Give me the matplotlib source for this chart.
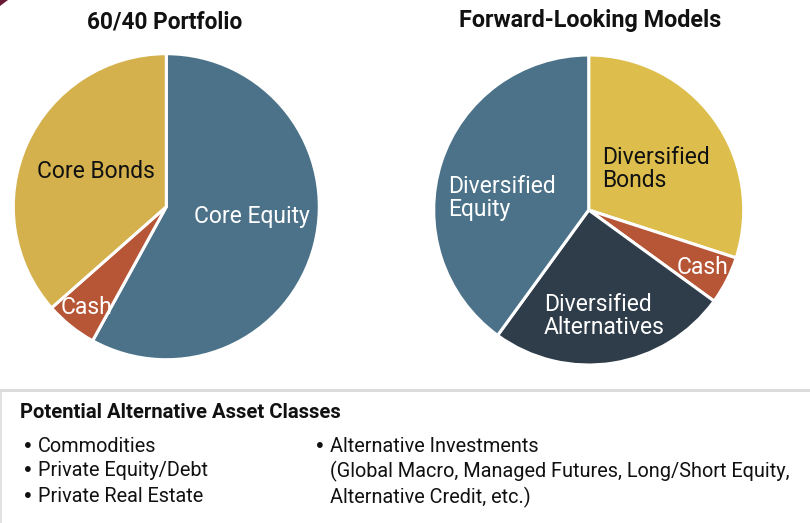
import matplotlib
matplotlib.use("Agg")
import matplotlib.pyplot as plt
from matplotlib.patches import Polygon

W, H = 810, 523
DPI = 100

# ---- data ----
left_title = "60/40 Portfolio"
left_labels = ["Core Equity", "Cash", "Core Bonds"]
left_values = [58, 5.5, 36.5]

right_title = "Forward-Looking Models"
right_labels = ["Diversified\nBonds", "Cash", "Diversified\nAlternatives", "Diversified\nEquity"]
right_values = [30, 5, 25, 40]

box_title = "Potential Alternative Asset Classes"
col1_items = ["Commodities", "Private Equity/Debt", "Private Real Estate"]
col2_lines = ["Alternative Investments",
              "(Global Macro, Managed Futures, Long/Short Equity,",
              "Alternative Credit, etc.)"]

# ---- styles ----
C_EQ = "#4B7289"
C_BOND_L = "#D4B14D"
C_BOND_R = "#DDBE4C"
C_CASH = "#B75636"
C_ALT = "#2F3D4A"

plt.rcParams['font.family'] = ['Roboto', 'DejaVu Sans']

fig = plt.figure(figsize=(W / DPI, H / DPI), dpi=DPI)
fig.patch.set_facecolor("white")


def fx(x):
    return x / W


def fy(y):
    return 1 - y / H


def pie_axes(cx, cy, r):
    ax = fig.add_axes([fx(cx - r), fy(cy + r), 2 * r / W, 2 * r / H])
    ax.axis("off")
    return ax


# left pie
axL = pie_axes(166.3, 206.7, 153)
axL.pie(left_values, colors=[C_EQ, C_CASH, C_BOND_L], startangle=90,
        counterclock=False, radius=1,
        wedgeprops=dict(edgecolor="white", linewidth=2.2))
axL.set_xlim(-1, 1)
axL.set_ylim(-1, 1)
axL.set_aspect("auto")

# right pie
axR = pie_axes(588.7, 210, 155)
axR.pie(right_values, colors=[C_BOND_R, C_CASH, C_ALT, C_EQ], startangle=90,
        counterclock=False, radius=1,
        wedgeprops=dict(edgecolor="white", linewidth=2.2))
axR.set_xlim(-1, 1)
axR.set_ylim(-1, 1)
axR.set_aspect("auto")

# titles
fig.text(fx(165), fy(22), left_title, ha="center", va="center",
         fontsize=16.3, fontweight="bold", color="#111111")
fig.text(fx(590), fy(20), right_title, ha="center", va="center",
         fontsize=16.8, fontweight="bold", color="#111111")

# left labels
LFS = 16.5
fig.text(fx(252), fy(217), left_labels[0], ha="center", va="center",
         fontsize=LFS, color="white")
fig.text(fx(86), fy(307), left_labels[1], ha="center", va="center",
         fontsize=LFS, color="white")
fig.text(fx(96), fy(171), left_labels[2], ha="center", va="center",
         fontsize=LFS, color="#111111")

# right labels
fig.text(fx(602), fy(169), right_labels[0], ha="left", va="center",
         fontsize=LFS, color="#111111", linespacing=0.95)
fig.text(fx(702), fy(267), right_labels[1], ha="center", va="center",
         fontsize=LFS, color="white")
fig.text(fx(544), fy(316), right_labels[2], ha="left", va="center",
         fontsize=LFS, color="white", linespacing=0.95)
fig.text(fx(448), fy(198), right_labels[3], ha="left", va="center",
         fontsize=LFS, color="white", linespacing=0.95)

# bottom box lines
fig.add_artist(plt.Line2D([0, 1], [fy(389.5), fy(389.5)], color="#DCDCDC",
                          linewidth=2.2, transform=fig.transFigure))
fig.add_artist(plt.Line2D([fx(1), fx(1)], [fy(390), 0], color="#DCDCDC",
                          linewidth=1.2, transform=fig.transFigure))

# top-left corner mark
fig.add_artist(Polygon([[fx(0), fy(0)], [fx(8), fy(0)], [fx(0), fy(6)]],
                       closed=True, facecolor="#6B1A35", edgecolor="none",
                       transform=fig.transFigure))

# box text
fig.text(fx(20), fy(413), box_title, ha="left", va="center",
         fontsize=14.6, fontweight="bold", color="#111111")
BFS = 14.3
rows_y = [446, 471, 497]


def bullet(x, y):
    fig.text(fx(x), fy(y), "\u2022", ha="left", va="center",
             fontsize=BFS, color="#111111", family="DejaVu Sans")


for y, item in zip(rows_y, col1_items):
    bullet(22, y)
    fig.text(fx(38), fy(y), item, ha="left", va="center",
             fontsize=BFS, color="#111111")
bullet(314, rows_y[0])
fig.text(fx(330), fy(rows_y[0]), col2_lines[0], ha="left",
         va="center", fontsize=BFS, color="#111111")
fig.text(fx(330), fy(rows_y[1]), col2_lines[1], ha="left", va="center",
         fontsize=BFS, color="#111111")
fig.text(fx(330), fy(rows_y[2]), col2_lines[2], ha="left", va="center",
         fontsize=BFS, color="#111111")

fig.savefig("out.png", dpi=DPI, facecolor="white")
